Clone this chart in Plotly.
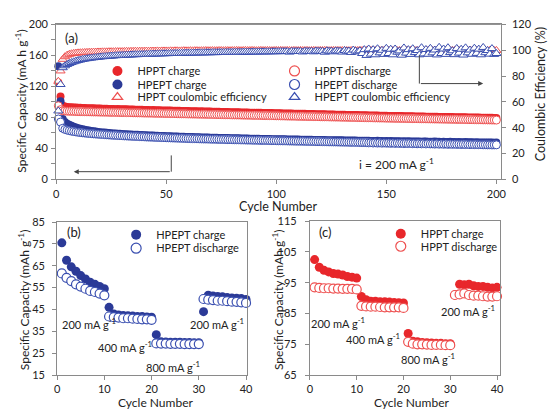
import plotly.graph_objects as go

# ---------------- DATA ----------------
cycles_a = list(range(1, 201))

hppt_charge_a = [
    125, 107, 95.0, 94.0, 93.5, 93.2, 93.0, 92.8, 92.7, 92.5,
    92.4, 92.2, 92.3, 92.0, 91.9, 91.8, 91.9, 91.6, 91.5, 91.5,
    91.3, 91.2, 91.3, 91.0, 90.9, 90.9, 90.7, 90.8, 90.6, 90.5,
    90.4, 90.4, 90.2, 90.3, 90.1, 90.0, 90.0, 89.8, 89.9, 89.7,
    89.6, 89.6, 89.4, 89.5, 89.3, 89.2, 89.2, 89.0, 89.1, 88.9,
    88.8, 88.8, 88.7, 88.6, 88.7, 88.5, 88.4, 88.4, 88.2, 88.3,
    88.1, 88.0, 88.0, 87.9, 87.8, 87.9, 87.7, 87.6, 87.6, 87.5,
    87.4, 87.4, 87.2, 87.3, 87.1, 87.0, 87.0, 86.9, 86.8, 86.8,
    86.7, 86.6, 86.6, 86.5, 86.4, 86.4, 86.3, 86.2, 86.2, 86.1,
    86.0, 86.0, 85.9, 85.8, 85.8, 85.7, 85.6, 85.6, 85.5, 85.4,
    85.4, 85.3, 85.2, 85.2, 85.1, 85.0, 85.0, 84.9, 84.8, 84.8,
    84.7, 84.6, 84.6, 84.5, 84.4, 84.4, 84.3, 84.2, 84.2, 84.1,
    84.0, 84.0, 83.9, 83.8, 83.8, 83.7, 83.6, 83.6, 83.5, 83.4,
    83.4, 83.3, 83.2, 83.2, 83.1, 83.0, 83.0, 82.9, 82.8, 82.8,
    82.7, 82.6, 82.6, 82.5, 82.4, 82.4, 82.3, 82.2, 82.2, 82.1,
    82.0, 82.0, 81.9, 81.9, 81.8, 81.7, 81.7, 81.6, 81.6, 81.5,
    81.4, 81.4, 81.3, 81.3, 81.2, 81.1, 81.1, 81.0, 81.0, 80.9,
    80.9, 80.8, 80.8, 80.7, 80.7, 80.6, 80.5, 80.5, 80.4, 80.4,
    80.3, 80.3, 80.2, 80.2, 80.1, 80.1, 80.0, 80.0, 79.9, 79.9,
    79.8, 79.8, 79.7, 79.7, 79.6, 79.6, 79.5, 79.5, 79.4, 79.4,
]

hppt_discharge_a = [
    95.0, 90.0, 88.6, 88.3, 88.1, 88.0, 87.9, 87.8, 87.7, 87.6,
    87.5, 87.5, 87.4, 87.3, 87.3, 87.2, 87.1, 87.1, 87.0, 86.9,
    86.9, 86.8, 86.8, 86.7, 86.6, 86.6, 86.5, 86.5, 86.4, 86.3,
    86.3, 86.2, 86.2, 86.1, 86.0, 86.0, 85.9, 85.9, 85.8, 85.7,
    85.7, 85.6, 85.6, 85.5, 85.4, 85.4, 85.3, 85.3, 85.2, 85.1,
    85.1, 85.0, 85.0, 84.9, 84.8, 84.8, 84.7, 84.7, 84.6, 84.5,
    84.5, 84.4, 84.4, 84.3, 84.2, 84.2, 84.1, 84.1, 84.0, 83.9,
    83.9, 83.8, 83.8, 83.7, 83.6, 83.6, 83.5, 83.5, 83.4, 83.3,
    83.3, 83.2, 83.2, 83.1, 83.0, 83.0, 82.9, 82.9, 82.8, 82.7,
    82.7, 82.6, 82.6, 82.5, 82.4, 82.4, 82.3, 82.3, 82.2, 82.1,
    82.1, 82.0, 82.0, 81.9, 81.8, 81.8, 81.7, 81.7, 81.6, 81.5,
    81.5, 81.4, 81.4, 81.3, 81.2, 81.2, 81.1, 81.1, 81.0, 80.9,
    80.9, 80.8, 80.8, 80.7, 80.6, 80.6, 80.5, 80.5, 80.4, 80.3,
    80.3, 80.2, 80.2, 80.1, 80.0, 80.0, 79.9, 79.9, 79.8, 79.7,
    79.7, 79.6, 79.6, 79.5, 79.4, 79.4, 79.3, 79.3, 79.2, 79.1,
    79.1, 79.0, 79.0, 78.9, 78.9, 78.8, 78.8, 78.7, 78.7, 78.6,
    78.6, 78.5, 78.5, 78.4, 78.4, 78.3, 78.3, 78.2, 78.2, 78.1,
    78.1, 78.0, 78.0, 77.9, 77.9, 77.8, 77.8, 77.7, 77.7, 77.6,
    77.6, 77.5, 77.5, 77.4, 77.4, 77.3, 77.3, 77.2, 77.2, 77.1,
    77.1, 77.0, 77.0, 76.9, 76.9, 76.8, 76.8, 76.7, 76.7, 76.6,
]

hpept_charge_a = [
    146, 101, 78.0, 74.0, 72.0, 70.5, 69.2, 68.1, 67.1, 66.2,
    65.4, 64.7, 64.1, 63.5, 63.0, 62.5, 62.1, 61.7, 61.3, 61.0,
    60.7, 60.4, 60.1, 59.8, 59.6, 59.4, 59.2, 59.0, 58.8, 58.6,
    58.4, 58.3, 58.1, 57.9, 57.8, 57.6, 57.5, 57.4, 57.2, 57.1,
    57.0, 56.8, 56.7, 56.6, 56.4, 56.3, 56.2, 56.1, 55.9, 55.8,
    55.7, 55.6, 55.5, 55.4, 55.3, 55.2, 55.1, 55.0, 54.9, 54.8,
    54.7, 54.6, 54.5, 54.4, 54.3, 54.2, 54.2, 54.1, 54.0, 53.9,
    53.8, 53.8, 53.7, 53.6, 53.5, 53.5, 53.4, 53.3, 53.2, 53.2,
    53.1, 53.0, 53.0, 52.9, 52.8, 52.8, 52.7, 52.6, 52.6, 52.5,
    52.4, 52.4, 52.3, 52.3, 52.2, 52.1, 52.1, 52.0, 52.0, 51.9,
    51.9, 51.8, 51.7, 51.7, 51.6, 51.6, 51.5, 51.5, 51.4, 51.4,
    51.3, 51.3, 51.2, 51.2, 51.1, 51.1, 51.0, 51.0, 50.9, 50.9,
    50.8, 50.8, 50.7, 50.7, 50.6, 50.6, 50.5, 50.5, 50.4, 50.4,
    50.3, 50.3, 50.2, 50.2, 50.1, 50.1, 50.0, 50.0, 49.9, 49.9,
    49.8, 49.9, 49.7, 49.7, 49.6, 49.8, 49.5, 49.6, 49.4, 49.5,
    49.3, 49.5, 49.2, 49.3, 49.2, 49.4, 49.1, 49.2, 49.0, 49.2,
    48.9, 49.1, 48.9, 48.8, 49.0, 48.7, 48.8, 48.9, 48.6, 48.7,
    48.6, 48.8, 48.5, 48.6, 48.4, 48.6, 48.4, 48.3, 48.5, 48.2,
    48.3, 48.1, 48.3, 48.1, 48.0, 48.2, 47.9, 48.0, 47.9, 47.8,
    47.9, 47.7, 47.8, 47.6, 47.7, 47.6, 47.5, 47.6, 47.4, 47.5,
]

hpept_discharge_a = [
    78.0, 74.0, 66.0, 64.5, 63.6, 62.9, 62.3, 61.8, 61.3, 60.9,
    60.5, 60.2, 59.9, 59.6, 59.3, 59.1, 58.8, 58.6, 58.4, 58.2,
    58.0, 57.8, 57.6, 57.4, 57.2, 57.0, 56.9, 56.7, 56.5, 56.4,
    56.2, 56.1, 55.9, 55.8, 55.6, 55.5, 55.4, 55.2, 55.1, 55.0,
    54.8, 54.7, 54.6, 54.5, 54.3, 54.2, 54.1, 54.0, 53.9, 53.8,
    53.7, 53.6, 53.5, 53.4, 53.3, 53.2, 53.1, 53.0, 52.9, 52.8,
    52.7, 52.6, 52.6, 52.5, 52.4, 52.3, 52.2, 52.2, 52.1, 52.0,
    51.9, 51.9, 51.8, 51.7, 51.6, 51.6, 51.5, 51.4, 51.4, 51.3,
    51.2, 51.2, 51.1, 51.0, 51.0, 50.9, 50.8, 50.8, 50.7, 50.6,
    50.6, 50.5, 50.4, 50.4, 50.3, 50.3, 50.2, 50.1, 50.1, 50.0,
    49.9, 49.9, 49.8, 49.8, 49.7, 49.6, 49.6, 49.5, 49.4, 49.4,
    49.3, 49.3, 49.2, 49.1, 49.1, 49.0, 49.0, 48.9, 48.8, 48.8,
    48.7, 48.7, 48.6, 48.5, 48.5, 48.4, 48.4, 48.3, 48.2, 48.2,
    48.1, 48.1, 48.0, 47.9, 47.9, 47.8, 47.8, 47.7, 47.6, 47.6,
    47.5, 47.2, 47.4, 47.0, 47.3, 46.9, 47.2, 46.8, 47.1, 46.8,
    46.9, 46.6, 46.9, 46.5, 46.8, 46.4, 46.7, 46.3, 46.6, 46.3,
    46.5, 46.1, 46.4, 46.0, 46.3, 45.9, 46.2, 45.8, 46.1, 45.8,
    45.9, 45.6, 45.9, 45.5, 45.8, 45.4, 45.7, 45.3, 45.6, 45.3,
    45.5, 45.2, 45.4, 45.1, 45.3, 45.0, 45.2, 44.9, 45.1, 44.9,
    45.0, 44.8, 44.9, 44.7, 44.8, 44.6, 44.7, 44.5, 44.6, 44.6,
]

hppt_ce_a = [
    76.0, 84.0, 93.0, 95.0, 96.2, 96.9, 97.3, 97.6, 97.8, 98.0,
    98.1, 98.2, 98.3, 98.4, 98.5, 98.5, 98.6, 98.6, 98.7, 98.7,
    98.8, 98.8, 98.8, 98.9, 98.9, 98.9, 99.0, 99.0, 99.0, 99.0,
    99.1, 99.2, 99.1, 99.2, 99.2, 99.3, 99.2, 99.3, 99.3, 99.3,
    99.4, 99.3, 99.4, 99.4, 99.4, 99.5, 99.4, 99.5, 99.5, 99.5,
    99.5, 99.6, 99.5, 99.6, 99.6, 99.5, 99.6, 99.7, 99.6, 99.6,
    99.7, 99.6, 99.7, 99.7, 99.6, 99.7, 99.7, 99.8, 99.7, 99.7,
    99.8, 99.7, 99.7, 99.8, 99.8, 99.7, 99.8, 99.8, 99.7, 99.8,
    99.8, 99.9, 99.8, 99.7, 99.8, 99.9, 99.8, 99.8, 99.9, 99.8,
    99.7, 99.8, 99.9, 99.8, 99.8, 99.9, 99.8, 99.7, 99.8, 99.9,
    99.8, 99.9, 99.8, 99.8, 99.9, 99.8, 99.7, 99.9, 99.8, 99.8,
    99.9, 99.8, 99.8, 99.9, 99.7, 99.8, 99.9, 99.8, 99.8, 99.9,
    99.8, 99.9, 99.8, 99.7, 99.8, 99.9, 99.8, 99.9, 99.8, 99.8,
    99.9, 99.8, 99.7, 99.8, 99.9, 99.8, 99.8, 99.9, 99.8, 99.9,
    99.8, 99.8, 99.9, 99.7, 99.8, 99.9, 99.8, 99.8, 99.9, 99.8,
    99.9, 99.8, 99.8, 99.9, 99.7, 99.8, 99.9, 99.8, 99.9, 99.8,
    99.8, 99.9, 99.8, 99.8, 99.9, 99.8, 99.7, 99.8, 99.9, 99.8,
    99.9, 99.8, 99.8, 99.9, 99.8, 99.8, 99.9, 99.7, 99.8, 99.9,
    99.8, 99.8, 99.9, 99.8, 99.9, 99.8, 99.8, 99.9, 99.8, 99.7,
    99.8, 99.9, 99.8, 99.8, 99.9, 99.8, 99.9, 99.8, 99.8, 99.9,
]

hpept_ce_a = [
    53.0, 73.5, 86.5, 88.0, 89.0, 89.8, 90.5, 91.1, 91.6, 92.1,
    92.5, 92.9, 93.2, 93.5, 93.8, 94.0, 94.2, 94.4, 94.6, 94.8,
    95.0, 95.1, 95.3, 95.4, 95.5, 95.6, 95.8, 95.9, 96.0, 96.1,
    96.2, 96.3, 96.3, 96.4, 96.5, 96.6, 96.6, 96.7, 96.8, 96.8,
    96.9, 97.0, 97.0, 97.1, 97.1, 97.2, 97.2, 97.3, 97.3, 97.4,
    97.4, 97.5, 97.5, 97.6, 97.6, 97.6, 97.7, 97.7, 97.8, 97.8,
    97.8, 97.9, 97.9, 97.9, 98.0, 98.0, 98.0, 98.1, 98.1, 98.1,
    98.2, 98.2, 98.2, 98.3, 98.3, 98.3, 98.4, 98.4, 98.4, 98.4,
    98.5, 98.5, 98.5, 98.5, 98.6, 98.6, 98.6, 98.6, 98.7, 98.7,
    98.7, 98.7, 98.8, 98.8, 98.8, 98.8, 98.8, 98.9, 98.9, 98.9,
    98.9, 99.0, 99.0, 99.0, 99.0, 98.6, 99.2, 99.0, 99.1, 99.1,
    99.1, 98.7, 99.3, 99.1, 99.1, 99.2, 98.8, 99.4, 99.2, 99.2,
    99.2, 98.5, 99.6, 99.2, 99.3, 98.8, 99.5, 99.3, 99.3, 98.6,
    99.8, 99.3, 99.4, 98.3, 100.2, 99.4, 98.8, 99.6, 97.5, 100.5,
    96.0, 101.0, 97.0, 100.5, 96.5, 101.2, 98.0, 100.0, 96.8, 101.5,
    97.5, 100.8, 96.5, 101.0, 98.5, 99.5, 96.2, 101.8, 97.8, 100.5,
    96.8, 101.2, 98.2, 99.8, 96.5, 102.0, 97.2, 100.6, 96.9, 101.5,
    98.0, 100.2, 96.4, 102.3, 97.5, 101.0, 96.8, 102.0, 98.2, 99.6,
    96.6, 101.4, 97.8, 100.8, 96.3, 101.9, 98.0, 100.2, 96.9, 101.6,
    97.6, 100.9, 96.5, 102.2, 98.1, 99.8, 97.0, 101.3, 96.8, 97.5,
]

cycles_bc = list(range(1, 41))

hpept_charge_b = [
    75.5, 67.5, 64.5, 62.5, 60.5, 59.0, 57.5, 56.5, 55.5, 54.5,
    46.0, 43.0, 42.5, 42.3, 42.2, 42.0, 41.8, 41.8, 41.6, 41.5,
    33.5, 30.2, 30.1, 30.0, 30.0, 30.0, 29.9, 29.9, 29.8, 29.8,
    44.0, 51.5, 51.2, 51.0, 50.8, 50.5, 50.3, 50.2, 50.0, 49.6,
]
hpept_discharge_b = [
    61.5, 59.5, 58.0, 56.5, 55.5, 54.5, 53.5, 53.0, 52.3, 51.5,
    41.8, 41.5, 41.3, 41.0, 41.0, 40.8, 40.7, 40.5, 40.5, 40.3,
    29.5, 29.4, 29.4, 29.3, 29.3, 29.3, 29.2, 29.2, 29.2, 29.2,
    49.8, 49.5, 49.3, 49.0, 49.0, 48.8, 48.6, 48.5, 48.3, 48.0,
]

hppt_charge_c = [
    102.5, 100.0, 99.0, 98.5, 98.0, 97.8, 97.5, 97.0, 96.8, 96.5,
    90.5, 89.5, 89.0, 89.0, 88.8, 88.8, 88.7, 88.6, 88.5, 88.4,
    78.5, 76.0, 75.8, 75.6, 75.5, 75.4, 75.3, 75.3, 75.2, 75.2,
    91.0, 94.5, 94.3, 94.5, 94.0, 93.8, 93.8, 93.5, 93.3, 93.5,
]
hppt_discharge_c = [
    93.5, 93.3, 93.2, 93.2, 93.1, 93.1, 93.0, 93.0, 93.0, 92.8,
    87.5, 87.3, 87.2, 87.2, 87.1, 87.0, 87.0, 87.0, 87.0, 86.8,
    75.8, 75.2, 75.0, 75.0, 74.9, 74.8, 74.8, 74.8, 74.7, 74.7,
    91.0, 91.2, 91.5, 91.0, 90.8, 90.8, 90.6, 90.5, 90.5, 90.6,
]

ticks_a_x = [0, 50, 100, 150, 200]
ticks_a_y = [0, 40, 80, 120, 160, 200]
ticks_a_y2 = [0, 20, 40, 60, 80, 100, 120]
ticks_bc_x = [0, 10, 20, 30, 40]
ticks_b_y = [15, 25, 35, 45, 55, 65, 75, 85]
ticks_c_y = [65, 75, 85, 95, 105, 115]

# ---------------- STYLE ----------------
FONT = "Lato"
TXT = "#222222"
AX = "#8a8a8a"
RED = "#e8272b"
RED_O = "#ee5050"
BLUE = "#2b3a97"
BLUE_O = "#3a4fb0"
W, H = 555, 415


def px_x(p):
    return p / W


def px_y(p):
    return 1 - p / H


fig = go.Figure()

# ---- panel (a) ----
SA = 8
fig.add_trace(go.Scatter(x=cycles_a, y=hppt_charge_a, mode="markers", xaxis="x", yaxis="y",
                         marker=dict(symbol="circle", size=SA, color=RED, line=dict(width=0)),
                         showlegend=False, cliponaxis=False))
fig.add_trace(go.Scatter(x=cycles_a, y=hpept_charge_a, mode="markers", xaxis="x", yaxis="y",
                         marker=dict(symbol="circle", size=SA, color=BLUE, line=dict(width=0)),
                         showlegend=False, cliponaxis=False))
fig.add_trace(go.Scatter(x=cycles_a, y=hppt_discharge_a, mode="markers", xaxis="x", yaxis="y",
                         marker=dict(symbol="circle", size=SA, color="white", line=dict(width=1, color=RED_O)),
                         showlegend=False, cliponaxis=False))
fig.add_trace(go.Scatter(x=cycles_a, y=hpept_discharge_a, mode="markers", xaxis="x", yaxis="y",
                         marker=dict(symbol="circle", size=SA, color="white", line=dict(width=1, color=BLUE_O)),
                         showlegend=False, cliponaxis=False))
fig.add_trace(go.Scatter(x=cycles_a, y=hppt_ce_a, mode="markers", xaxis="x", yaxis="y2",
                         marker=dict(symbol="triangle-up", size=SA, color="white", line=dict(width=1, color=RED_O)),
                         showlegend=False, cliponaxis=False))
fig.add_trace(go.Scatter(x=cycles_a, y=hpept_ce_a, mode="markers", xaxis="x", yaxis="y2",
                         marker=dict(symbol="triangle-up", size=SA, color="white", line=dict(width=1, color=BLUE_O)),
                         showlegend=False, cliponaxis=False))

# ---- panel (b) ----
fig.add_trace(go.Scatter(x=cycles_bc, y=hpept_charge_b, mode="markers", xaxis="x2", yaxis="y3",
                         marker=dict(symbol="circle", size=9, color=BLUE, line=dict(width=0)),
                         showlegend=False, cliponaxis=False))
fig.add_trace(go.Scatter(x=cycles_bc, y=hpept_discharge_b, mode="markers", xaxis="x2", yaxis="y3",
                         marker=dict(symbol="circle", size=9, color="white", line=dict(width=1.2, color=BLUE_O)),
                         showlegend=False, cliponaxis=False))

# ---- panel (c) ----
fig.add_trace(go.Scatter(x=cycles_bc, y=hppt_charge_c, mode="markers", xaxis="x3", yaxis="y4",
                         marker=dict(symbol="circle", size=9, color=RED, line=dict(width=0)),
                         showlegend=False, cliponaxis=False))
fig.add_trace(go.Scatter(x=cycles_bc, y=hppt_discharge_c, mode="markers", xaxis="x3", yaxis="y4",
                         marker=dict(symbol="circle", size=9, color="white", line=dict(width=1.2, color=RED_O)),
                         showlegend=False, cliponaxis=False))

# ---- legend entries (one legend per entry for exact placement) ----
legend_entries = [
    # name, symbol, fill, line color, legend id, text start px x, center px y, size
    ("HPPT charge", "circle", RED, RED, "legend", 135, 66, 10),
    ("HPEPT charge", "circle", BLUE, BLUE, "legend2", 135, 80, 10),
    ("HPPT coulombic efficiency", "triangle-up", "white", RED_O, "legend3", 135, 93, 9),
    ("HPPT discharge", "circle", "white", RED_O, "legend4", 315, 66, 10),
    ("HPEPT discharge", "circle", "white", BLUE_O, "legend5", 315, 80, 10),
    ("HPEPT coulombic efficiency", "triangle-up", "white", BLUE_O, "legend6", 315, 93, 9),
    ("HPEPT charge", "circle", BLUE, BLUE, "legend7", 154, 235, 10),
    ("HPEPT discharge", "circle", "white", BLUE_O, "legend8", 154, 249, 10),
    ("HPPT charge", "circle", RED, RED, "legend9", 423, 234, 10),
    ("HPPT discharge", "circle", "white", RED_O, "legend10", 423, 247, 10),
]

LEG_TEXT_OFFSET = 39
layout_legends = {}
for name, sym, fill, lc, lid, tx, ty, sz in legend_entries:
    fig.add_trace(go.Scatter(x=[None], y=[None], mode="markers", name=name, legend=lid,
                             xaxis="x", yaxis="y",
                             marker=dict(symbol=sym, size=sz, color=fill,
                                         line=dict(width=1.2 if fill == "white" else 0, color=lc))))
    layout_legends[lid] = dict(x=px_x(tx - LEG_TEXT_OFFSET), y=px_y(ty), xanchor="left", yanchor="middle",
                               xref="paper", yref="paper",
                               bgcolor="rgba(0,0,0,0)", borderwidth=0,
                               font=dict(family=FONT, size=11, color=TXT))

axis_common = dict(showline=True, linecolor=AX, linewidth=1, ticks="outside",
                   tickcolor=AX, ticklen=4, showgrid=False, zeroline=False,
                   tickfont=dict(family=FONT, size=11, color=TXT))

fig.update_layout(
    width=W, height=H,
    margin=dict(l=0, r=0, t=0, b=0),
    paper_bgcolor="white", plot_bgcolor="white",
    font=dict(family=FONT, size=11, color=TXT),
    xaxis=dict(domain=[px_x(54), px_x(506)], range=[0, 202], anchor="y", tickvals=ticks_a_x,
               mirror=True, **axis_common),
    yaxis=dict(domain=[px_y(178), px_y(18)], range=[0, 200], anchor="x", tickvals=ticks_a_y,
               minor=dict(dtick=20, ticks="outside", ticklen=4, tickcolor=AX),
               mirror=False, ticklabelstandoff=1, **axis_common),
    yaxis2=dict(range=[0, 120], overlaying="y", side="right", anchor="x", tickvals=ticks_a_y2,
                mirror=False, ticklabelstandoff=4, **axis_common),
    xaxis2=dict(domain=[px_x(55), px_x(248)], range=[0, 40.2], anchor="y3", tickvals=ticks_bc_x,
                mirror=True, **axis_common),
    yaxis3=dict(domain=[px_y(380), px_y(222)], range=[15, 85], anchor="x2", tickvals=ticks_b_y,
                mirror=True, ticklabelstandoff=5, **axis_common),
    xaxis3=dict(domain=[px_x(312), px_x(505)], range=[0, 40.6], anchor="y4", tickvals=ticks_bc_x,
                mirror=True, **axis_common),
    yaxis4=dict(domain=[px_y(380), px_y(221)], range=[65, 115], anchor="x3", tickvals=ticks_c_y,
                mirror=True, ticklabelstandoff=6, **axis_common),
    **layout_legends,
)

# top frame line for panel (a)
fig.add_shape(type="line", xref="x domain", yref="y domain", x0=0, x1=1, y0=1, y1=1,
              line=dict(color=AX, width=1))

# arrows in panel (a)
ARROW = "#444444"
fig.add_shape(type="line", xref="x", yref="y", x0=52.3, x1=52.3, y0=31, y1=10,
              line=dict(color=ARROW, width=1))
fig.add_annotation(x=8, y=10, xref="x", yref="y", ax=52.3, ay=10, axref="x", ayref="y",
                   text="", showarrow=True, arrowhead=2, arrowsize=1, arrowwidth=1, arrowcolor=ARROW)
fig.add_shape(type="line", xref="x", yref="y2", x0=165, x1=165, y0=96, y1=74.2,
              line=dict(color=ARROW, width=1))
fig.add_annotation(x=194, y=74.2, xref="x", yref="y2", ax=165, ay=74.2, axref="x", ayref="y2",
                   text="", showarrow=True, arrowhead=2, arrowsize=1, arrowwidth=1, arrowcolor=ARROW)


# text annotations
def ann(text, x, y, xref, yref, size=11, angle=0):
    fig.add_annotation(text=text, x=x, y=y, xref=xref, yref=yref, showarrow=False,
                       textangle=angle, font=dict(family=FONT, size=size, color=TXT),
                       xanchor="center", yanchor="middle")


ann("(a)", 7.2, 182.5, "x", "y", size=13)
ann("i = 200 mA g<sup>-1</sup>", 154.6, 20, "x", "y", size=12)
ann("(b)", 3.5, 80.5, "x2", "y3", size=13)
ann("200 mA g<sup>-1</sup>", 6.7, 38.6, "x2", "y3")
ann("400 mA g<sup>-1</sup>", 14.4, 27.9, "x2", "y3")
ann("800 mA g<sup>-1</sup>", 24.6, 19.0, "x2", "y3")
ann("200 mA g<sup>-1</sup>", 33.75, 38.6, "x2", "y3")
ann("(c)", 3.4, 111.5, "x3", "y4", size=13)
ann("200 mA g<sup>-1</sup>", 6.1, 82.1, "x3", "y4")
ann("400 mA g<sup>-1</sup>", 13.5, 77.0, "x3", "y4")
ann("800 mA g<sup>-1</sup>", 25.3, 70.4, "x3", "y4")
ann("200 mA g<sup>-1</sup>", 33.7, 85.9, "x3", "y4")

# axis titles
ann("Cycle Number", px_x(280), px_y(206), "paper", "paper", size=12.5)
ann("Cycle Number", px_x(155), px_y(408), "paper", "paper", size=12)
ann("Cycle Number", px_x(415), px_y(408), "paper", "paper", size=12)
ann("Specific Capacity (mA h g<sup>-1</sup>)", px_x(18), px_y(97), "paper", "paper", size=12, angle=-90)
ann("Coulombic Efficiency (%)", px_x(546), px_y(90), "paper", "paper", size=12.5, angle=-90)
ann("Specific Capacity (mAh g<sup>-1</sup>)", px_x(21), px_y(302), "paper", "paper", size=12, angle=-90)
ann("Specific Capacity (mAh g<sup>-1</sup>)", px_x(279), px_y(302), "paper", "paper", size=12, angle=-90)

fig.write_html("out.html", config={"displayModeBar": False},
               post_script="document.body.style.margin='0';document.body.style.overflow='hidden';")
